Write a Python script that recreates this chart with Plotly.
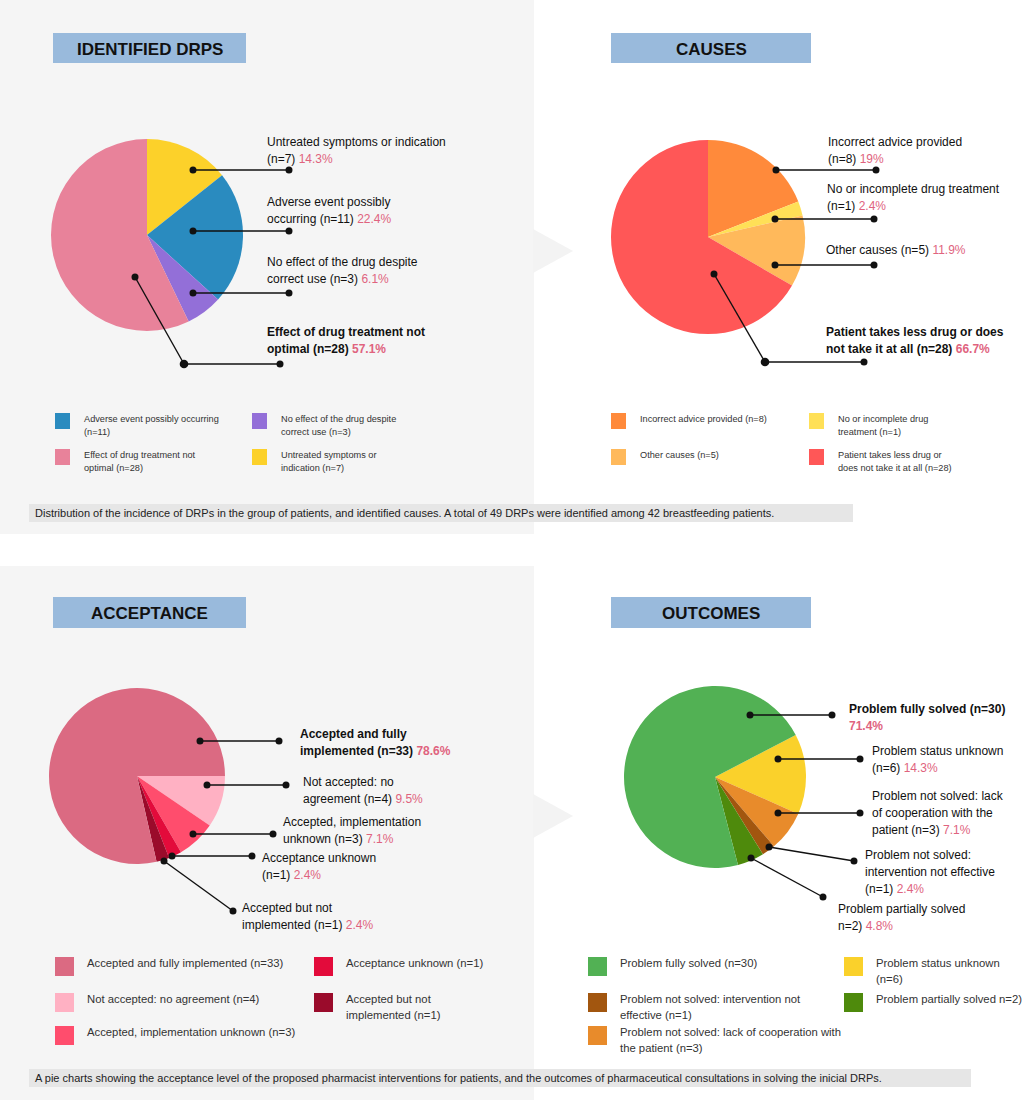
import plotly.graph_objects as go

W, H = 1024, 1100

# ---- data ----
drp_labels = ["Untreated symptoms or indication", "Adverse event possibly occurring",
              "No effect of the drug despite correct use", "Effect of drug treatment not optimal"]
drp_counts = [7, 11, 3, 28]
drp_pct = ["14.3%", "22.4%", "6.1%", "57.1%"]
drp_colors = ["#FCD12A", "#2A8BBF", "#936FD8", "#E8829A"]

cause_labels = ["Incorrect advice provided", "No or incomplete drug treatment", "Other causes",
                "Patient takes less drug or does not take it at all"]
cause_counts = [8, 1, 5, 28]
cause_pct = ["19%", "2.4%", "11.9%", "66.7%"]
cause_colors = ["#FF8A3B", "#FFE057", "#FFB95B", "#FF5757"]

acc_labels = ["Not accepted: no agreement", "Accepted, implementation unknown", "Acceptance unknown",
              "Accepted but not implemented", "Accepted and fully implemented"]
acc_counts = [4, 3, 1, 1, 33]
acc_pct = ["9.5%", "7.1%", "2.4%", "2.4%", "78.6%"]
acc_colors = ["#FFB1C3", "#FF4D6D", "#E30B3B", "#9A0B2B", "#DB6A82"]

out_labels = ["Problem status unknown", "Problem not solved: lack of cooperation with the patient",
              "Problem not solved: intervention not effective", "Problem partially solved",
              "Problem fully solved"]
out_counts = [6, 3, 1, 2, 30]
out_pct = ["14.3%", "7.1%", "2.4%", "4.8%", "71.4%"]
out_colors = ["#FAD12B", "#E88B2B", "#A2560F", "#4E8A0C", "#52B154"]

# wrapped callout texts (same order as the slices)
drp_callout = [["Untreated symptoms or indication", "(n=7)"],
               ["Adverse event possibly", "occurring (n=11)"],
               ["No effect of the drug despite", "correct use (n=3)"],
               ["Effect of drug treatment not", "optimal (n=28)"]]
cause_callout = [["Incorrect advice provided", "(n=8)"],
                 ["No or incomplete drug treatment", "(n=1)"],
                 ["Other causes (n=5)"],
                 ["Patient takes less drug or does", "not take it at all (n=28)"]]
acc_callout = [["Not accepted: no", "agreement (n=4)"],
               ["Accepted, implementation", "unknown (n=3)"],
               ["Acceptance unknown", "(n=1)"],
               ["Accepted but not", "implemented (n=1)"],
               ["Accepted and fully", "implemented (n=33)"]]
out_callout = [["Problem status unknown", "(n=6)"],
               ["Problem not solved: lack", "of cooperation with the", "patient (n=3)"],
               ["Problem not solved:", "intervention not effective", "(n=1)"],
               ["Problem partially solved", "n=2)"],
               ["Problem fully solved (n=30)", ""]]

# legend texts, in grid order (row by row, two columns)
drp_legend = [("Adverse event possibly occurring<br>(n=11)", 1), ("No effect of the drug despite<br>correct use (n=3)", 2),
              ("Effect of drug treatment not<br>optimal (n=28)", 3), ("Untreated symptoms or<br>indication (n=7)", 0)]
cause_legend = [("Incorrect advice provided (n=8)", 0), ("No or incomplete drug<br>treatment (n=1)", 1),
                ("Other causes (n=5)", 2), ("Patient takes less drug or<br>does not take it at all (n=28)", 3)]
acc_legend = [("Accepted and fully implemented (n=33)", 4), ("Acceptance unknown (n=1)", 2),
              ("Not accepted: no agreement (n=4)", 0), ("Accepted but not<br>implemented (n=1)", 3),
              ("Accepted, implementation unknown (n=3)", 1), (None, None)]
out_legend = [("Problem fully solved (n=30)", 4), ("Problem status unknown<br>(n=6)", 0),
              ("Problem not solved: intervention not<br>effective (n=1)", 2), ("Problem partially solved n=2)", 3),
              ("Problem not solved: lack of cooperation with<br>the patient (n=3)", 1), (None, None)]

caption_top = ("Distribution of the incidence of DRPs in the group of patients, and identified causes. "
               "A total of 49 DRPs were identified among 42 breastfeeding patients.")
caption_bottom = ("A pie charts showing the acceptance level of the proposed pharmacist interventions for patients, "
                  "and the outcomes of pharmaceutical consultations in solving the inicial DRPs.")

FONT = "Arial, Liberation Sans, sans-serif"
PCT_COLOR = "#E0637E"
PANEL = "#F5F5F5"
HEADER = "#99BADC"


def px(x):
    return x / W


def py(y):
    return 1 - y / H


shapes = []
annotations = []


def rect(x0, y0, x1, y1, color, layer="below"):
    shapes.append(dict(type="rect", xref="paper", yref="paper", x0=px(x0), x1=px(x1), y0=py(y1), y1=py(y0),
                       fillcolor=color, line=dict(width=0), layer=layer))


def text(x, y, s, size, color="#111", anchor="left", bold=False):
    if bold:
        s = "<b>" + s + "</b>"
    annotations.append(dict(x=px(x), y=py(y), xref="paper", yref="paper", text=s, showarrow=False,
                            xanchor=anchor, yanchor="middle", font=dict(family=FONT, size=size, color=color)))


def dot(x, y, r=3.5):
    shapes.append(dict(type="circle", xref="paper", yref="paper", x0=px(x - r), x1=px(x + r),
                       y0=py(y + r), y1=py(y - r), fillcolor="#111", line=dict(width=0), layer="above"))


def callout(pts, tx, ty, lines, pct, bold=False):
    for (xa, ya), (xb, yb) in zip(pts[:-1], pts[1:]):
        shapes.append(dict(type="line", xref="paper", yref="paper", x0=px(xa), y0=py(ya), x1=px(xb), y1=py(yb),
                           line=dict(color="#111", width=1.4), layer="above"))
    for i, (x, y) in enumerate(pts):
        dot(x, y, 4.3 if (len(pts) == 3 and i == 1) else 3.5)
    for i, line in enumerate(lines):
        s = line
        if i == len(lines) - 1:
            span = '<span style="color:%s">%s</span>' % (PCT_COLOR, pct)
            s = (line + " " + span) if line else span
        text(tx, ty + i * 17, s, 12, bold=bold)


def header(x0, y0, x1, y1, label):
    rect(x0, y0, x1, y1, HEADER)
    text((x0 + x1) / 2, (y0 + y1) / 2 + 1, label, 17, color="#111", anchor="center", bold=True)


def legend(entries, colors, cols_x, rows_y, sq, size, spacing, gap):
    for k, (label, idx) in enumerate(entries):
        if label is None:
            continue
        x = cols_x[k % 2]
        y = rows_y[k // 2]
        rect(x, y, x + sq[0], y + sq[1], colors[idx], layer="above")
        for i, part in enumerate(label.split("<br>")):
            text(x + sq[0] + gap, y + 6 + i * spacing, part, size, color="#333")


def pie(values, labels, colors, cx, cy, r, rotation):
    return go.Pie(values=values, labels=labels, sort=False, direction="clockwise", rotation=rotation,
                  marker=dict(colors=colors, line=dict(width=0)), textinfo="none", showlegend=False,
                  hoverinfo="label+value+percent",
                  domain=dict(x=[px(cx - r), px(cx + r)], y=[py(cy + r), py(cy - r)]))


# panels and chevrons
rect(0, 0, 534, 534, PANEL)
rect(0, 566, 534, 1100, PANEL)
for cy in (251, 816):
    shapes.append(dict(type="path", xref="paper", yref="paper", layer="below",
                       path="M %f,%f L %f,%f L %f,%f Z" % (px(533), py(cy - 22), px(573), py(cy), px(533), py(cy + 22)),
                       fillcolor="#F3F3F3", line=dict(width=0)))

header(53, 33, 246, 63, "IDENTIFIED DRPS")
header(611, 33, 811, 63, "CAUSES")
header(53, 597, 246, 628, "ACCEPTANCE")
header(611, 597, 811, 628, "OUTCOMES")

fig = go.Figure()
fig.add_trace(pie(drp_counts, drp_labels, drp_colors, 147, 235, 96, 0))
fig.add_trace(pie(cause_counts, cause_labels, cause_colors, 708, 237, 97, 0))
fig.add_trace(pie(acc_counts, acc_labels, acc_colors, 137, 776, 88, 90))
fig.add_trace(pie(out_counts, out_labels, out_colors, 715, 777, 91, 62.5))

# callouts: leader points, text position
drp_leaders = [([(193, 170), (289, 170)], 265, 142), ([(193, 231), (289, 231)], 265, 202),
               ([(193, 293), (289, 293)], 265, 262), ([(135, 277), (184, 364), (280, 364)], 265, 332)]
cause_leaders = [([(776, 170), (876, 170)], 826, 142), ([(775, 219), (874, 219)], 825, 189),
                 ([(775, 265), (874, 265)], 824, 250), ([(714, 274), (765, 362), (864, 362)], 824, 332)]
acc_leaders = [([(207, 785), (286, 785)], 301, 782), ([(193, 834), (273, 834)], 281, 822),
               ([(172, 856), (252, 856)], 260, 858), ([(164, 861), (233, 911)], 240, 908),
               ([(200, 741), (279, 741)], 298, 734)]
out_leaders = [([(778, 759), (860, 759)], 870, 751), ([(778, 813), (860, 813)], 870, 796),
               ([(769, 847), (854, 861)], 863, 855), ([(751, 858), (823, 897)], 836, 909),
               ([(750, 715), (832, 715)], 847, 709)]

for leaders, lines_all, pcts, bold_idx in [(drp_leaders, drp_callout, drp_pct, 3),
                                           (cause_leaders, cause_callout, cause_pct, 3),
                                           (acc_leaders, acc_callout, acc_pct, 4),
                                           (out_leaders, out_callout, out_pct, 4)]:
    for i, (pts, tx, ty) in enumerate(leaders):
        callout(pts, tx, ty, lines_all[i], pcts[i], bold=(i == bold_idx))

# legends
legend(drp_legend, drp_colors, (55, 252), (413, 449), (15, 16), 9.2, 13, 12)
legend(cause_legend, cause_colors, (611, 809), (413, 449), (15, 16), 9.2, 13, 12)
legend(acc_legend, acc_colors, (55, 314), (957, 993, 1026), (19, 19), 11.3, 16, 11)
legend(out_legend, out_colors, (588, 844), (957, 993, 1026), (19, 19), 11.3, 16, 11)

# captions
shapes.append(dict(type="rect", xref="paper", yref="paper", x0=px(29), x1=px(853), y0=py(522), y1=py(504),
                   fillcolor="#E6E6E6", line=dict(width=0), layer="below"))
text(33, 513, caption_top, 11, color="#222")
shapes.append(dict(type="rect", xref="paper", yref="paper", x0=px(29), x1=px(971), y0=py(1087), y1=py(1069),
                   fillcolor="#E6E6E6", line=dict(width=0), layer="below"))
text(33, 1078, caption_bottom, 11, color="#222")

fig.update_layout(
    width=W, height=H,
    margin=dict(l=0, r=0, t=0, b=0),
    paper_bgcolor="white",
    plot_bgcolor="white",
    font=dict(family=FONT),
    shapes=shapes,
    annotations=annotations,
    showlegend=False,
)

# drop the default page margin so the figure sits at the top-left corner
fig.write_html("out.html", config={"displayModeBar": False},
               post_script="document.body.style.margin='0';")
